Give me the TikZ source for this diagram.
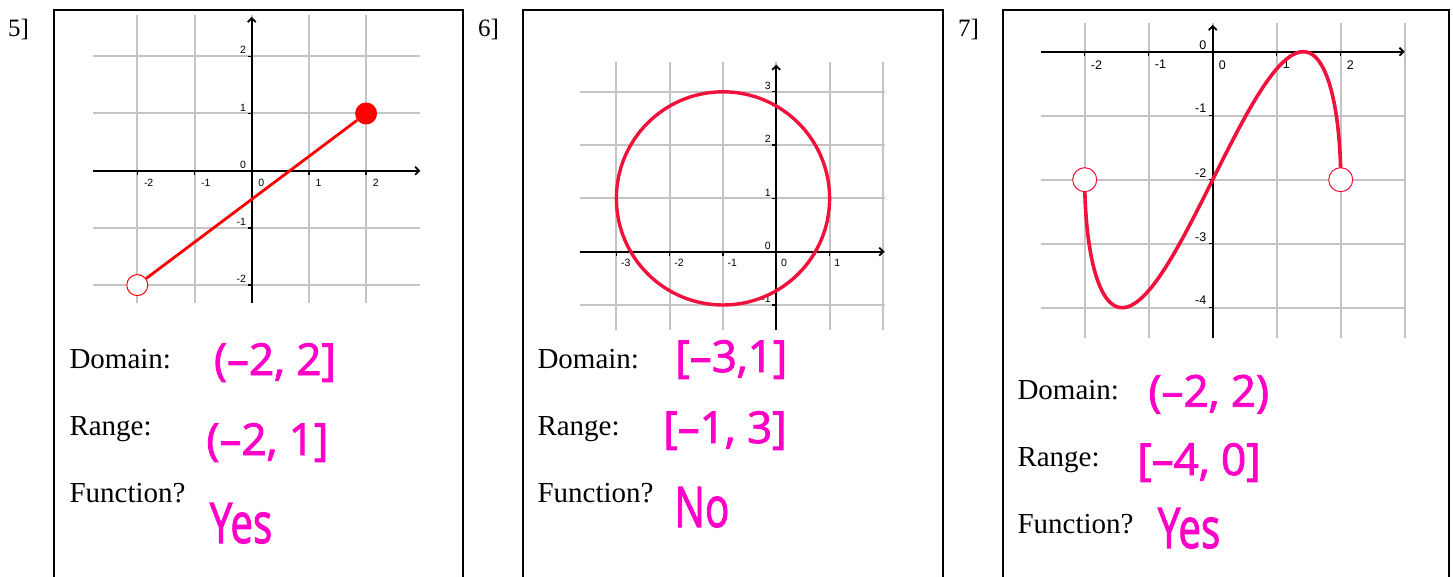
\documentclass[tikz,border=0pt]{standalone}
\usepackage{fontspec}
\setmainfont{Liberation Serif}
\newfontfamily\ticksans{Liberation Sans}
\newfontfamily\handfont[FakeBold=2]{Open Sans}
\usetikzlibrary{arrows.meta, positioning}
\definecolor{gridgray}{RGB}{196,196,196}
\definecolor{plotred}{RGB}{240,18,60}
\definecolor{inkpink}{RGB}{255,0,200}

\begin{document}
\begin{tikzpicture}[
    x=1pt, y=-1pt,
    frame/.style = {draw, line width=2pt},
    gridline/.style = {draw=gridgray, line width=2pt},
    axis/.style = {draw, line width=1.8pt, -{Straight Barb[length=4pt, width=8pt]}},
    tickmark/.style = {draw, line width=1.4pt},
    xnum/.style = {anchor=north west, inner sep=0pt, xshift=6.5pt, yshift=-8pt, font=\ticksans\fontsize{10.5}{10.5}\selectfont},
    ynum/.style = {anchor=east, inner sep=0pt, xshift=-5.5pt, yshift=6pt, font=\ticksans\fontsize{10.5}{10.5}\selectfont},
    tag/.style = {anchor=base west, inner sep=0pt, font=\fontsize{25}{25}\selectfont},
    prompt/.style = {anchor=base west, inner sep=0pt, font=\fontsize{29}{29}\selectfont},
    answer/.style = {anchor=base, inner sep=0pt, text=inkpink, font=\handfont\fontsize{44}{44}\selectfont},
    tallanswer/.style = {answer, xscale=0.72, font=\handfont\fontsize{56}{56}\selectfont},
    opendot/.style = {circle, draw=red, fill=white, line width=1pt, inner sep=0pt, minimum size=21pt},
    fulldot/.style = {circle, fill=red, inner sep=0pt, minimum size=22pt}
]
    \useasboundingbox (0,0) rectangle (1453,577);

    % frames and problem numbers
    \draw [frame] (54,577) |- (463,10) -- (463,577);
    \draw [frame] (523,577) |- (943,10) -- (943,577);
    \draw [frame] (1003,577) |- (1448.5,10) -- (1448.5,577);
    \node [tag] (tag5) at (8,36.7) {5]};
    \node [tag] (tag6) at (478,36.7) {6]};
    \node [tag] (tag7) at (958,36.7) {7]};

    % problem 5
    \begin{scope}[shift={(251.7pt,-170.7pt)}, x=57.2pt, y=57.2pt]
        \foreach \k in {-2,...,2} {
            \draw [gridline] (-2.77,\k) -- (2.95,\k);
            \draw [gridline] (\k,-2.31) -- (\k,2.73);
        }
        \draw [axis] (-2.77,0) -- (2.95,0);
        \draw [axis] (0,-2.31) -- (0,2.69);
        \foreach \k in {-2,-1,1,2} {
            \draw [tickmark] (\k,0) -- ++(0,-4pt);
            \draw [tickmark] (0,\k) -- ++(-4pt,0);
        }
        \foreach \k in {-2,...,2} {
            \node [xnum] (x5\k) at (\k,0) {\k};
            \node [ynum] (y5\k) at (0,\k) {\k};
        }
        \node [opendot] (start5) at (-2,-2) {};
        \node [fulldot] (end5) at (2,1) {};
        \draw [red, line width=2.8pt] (start5) -- (end5);
    \end{scope}
    \node [prompt] (dom5) at (69.3,368.3) {Domain:};
    \node [prompt, below=67pt of dom5.base west, anchor=base west] (rng5) {Range:};
    \node [prompt, below=67pt of rng5.base west, anchor=base west] (fun5) {Function?};
    \node [answer] (dom5ans) at (275,375) {(–2, 2]};
    \node [answer] (rng5ans) at (267.5,455) {(–2, 1]};
    \node [tallanswer] (fun5ans) at (241,543) {Yes};

    % problem 6
    \begin{scope}[shift={(776.3pt,-251.7pt)}, x=53.3pt, y=53.3pt,
        xnum/.append style={xshift=-2pt, yshift=1pt}]
        \foreach \k in {-1,...,3}
            \draw [gridline] (-3.69,\k) -- (2.04,\k);
        \foreach \k in {-3,...,2}
            \draw [gridline] (\k,-1.47) -- (\k,3.55);
        \draw [axis] (-3.69,0) -- (2.03,0);
        \draw [axis] (0,-1.47) -- (0,3.51);
        \foreach \k in {-3,-2,-1,1}
            \draw [tickmark] (\k,0) -- ++(0,-4pt);
        \foreach \k in {-1,1,2,3}
            \draw [tickmark] (0,\k) -- ++(-4pt,0);
        \foreach \k in {-3,...,1}
            \node [xnum] (x6\k) at (\k,0) {\k};
        \foreach \k in {-1,...,3}
            \node [ynum] (y6\k) at (0,\k) {\k};
        \draw [plotred, line width=3.4pt] (-1,1) circle [radius=2];
    \end{scope}
    \node [prompt] (dom6) at (537.3,368) {Domain:};
    \node [prompt, below=67pt of dom6.base west, anchor=base west] (rng6) {Range:};
    \node [prompt, below=67pt of rng6.base west, anchor=base west] (fun6) {Function?};
    \node [answer] (dom6ans) at (731.3,372) {[–3,1]};
    \node [answer] (rng6ans) at (725,443) {[–1, 3]};
    \node [tallanswer] (fun6ans) at (702,527) {No};

    % problem 7
    \begin{scope}[shift={(1212.7pt,-51.7pt)}, x=64pt, y=64pt,
        xnum/.append style={xshift=-0.5pt, yshift=-0.5pt, font=\ticksans\fontsize{12.5}{12.5}\selectfont},
        ynum/.append style={xshift=-0.8pt, yshift=1pt, font=\ticksans\fontsize{12.5}{12.5}\selectfont}]
        \foreach \k in {-4,...,0}
            \draw [gridline] (-2.68,\k) -- (3,\k);
        \foreach \k in {-2,...,3}
            \draw [gridline] (\k,-4.48) -- (\k,0.45);
        \draw [axis] (-2.68,0) -- (3,0);
        \draw [axis] (0,-4.48) -- (0,0.42);
        \foreach \k in {-2,-1,1,2}
            \draw [tickmark] (\k,0) -- ++(0,-4pt);
        \foreach \k in {-4,...,-1}
            \draw [tickmark] (0,\k) -- ++(-4pt,0);
        \foreach \k in {-2,...,2}
            \node [xnum] (x7\k) at (\k,0) {\k};
        \foreach \k in {-4,...,0}
            \node [ynum] (y7\k) at (0,\k) {\k};
        \draw [plotred, line width=3.6pt, line cap=round]
            plot [domain=-90:90, samples=121, smooth] ({2*sin(\x)}, {-2+2*sin(2*\x)});
        \node [opendot, draw=plotred, minimum size=24pt] (start7) at (-2,-2) {};
        \node [opendot, draw=plotred, minimum size=24pt] (end7) at (2,-2) {};
    \end{scope}
    \node [prompt] (dom7) at (1017.3,399.3) {Domain:};
    \node [prompt, below=67pt of dom7.base west, anchor=base west] (rng7) {Range:};
    \node [prompt, below=67pt of rng7.base west, anchor=base west] (fun7) {Function?};
    \node [answer] (dom7ans) at (1208.8,406.7) {(–2, 2)};
    \node [answer] (rng7ans) at (1199,475) {[–4, 0]};
    \node [tallanswer] (fun7ans) at (1189,548) {Yes};
\end{tikzpicture}
\end{document}
